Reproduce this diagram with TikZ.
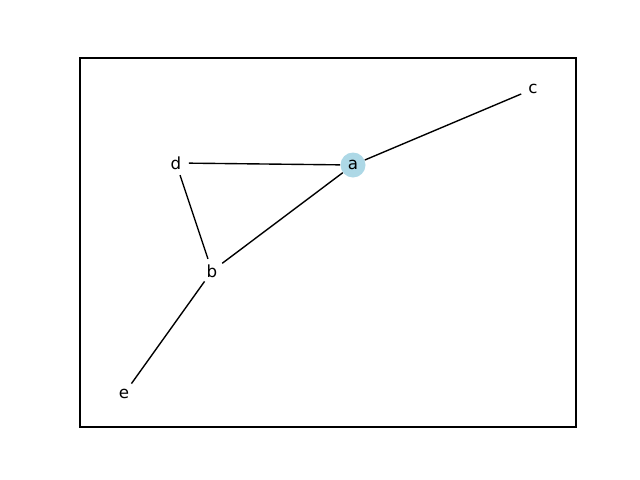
\documentclass[tikz,border=0pt]{standalone}
\usepackage{fontspec}
\setmainfont{DejaVu Sans}
\definecolor{lblue}{RGB}{173,216,230}
\begin{document}
\begin{tikzpicture}[x=0.72pt,y=-0.72pt,
  vtx/.style={circle,minimum size=25*0.72pt,inner sep=0pt,font=\fontsize{12}{14}\selectfont},
  edge/.style={draw=black,line width=1pt}]
\useasboundingbox (0,0) rectangle (640,480);
\draw[line width=0.8pt] (80,58) rectangle (576,427);
\node[vtx,fill=lblue] (a) at (353,165) {a};
\node[vtx] (c) at (533,89) {c};
\node[vtx] (d) at (176,163) {d};
\node[vtx] (b) at (212,271) {b};
\node[vtx] (e) at (124,394) {e};
\draw[edge] (d) -- (a);
\draw[edge] (a) -- (c);
\draw[edge] (a) -- (b);
\draw[edge] (d) -- (b);
\draw[edge] (b) -- (e);
\end{tikzpicture}
\end{document}
